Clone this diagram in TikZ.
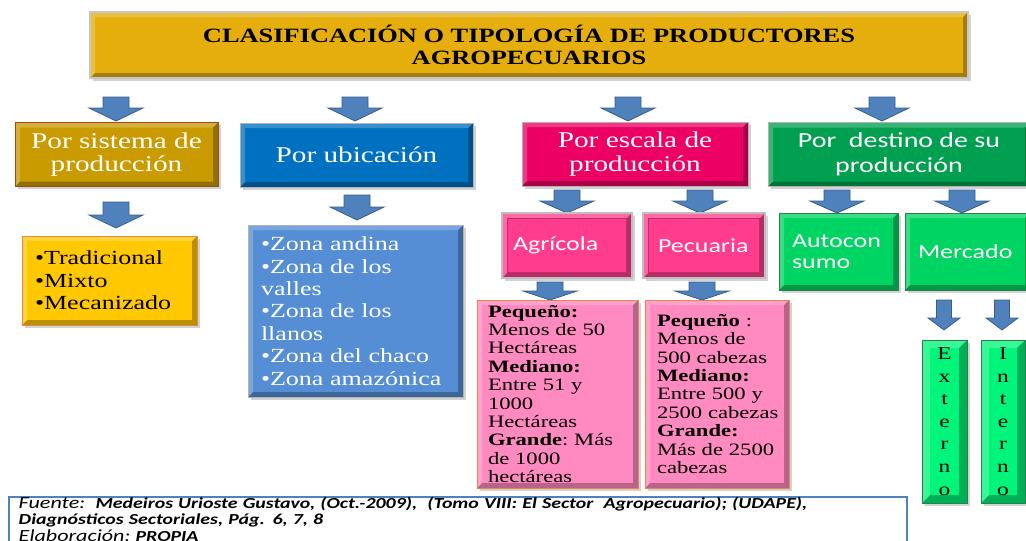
\documentclass[tikz,border=0pt]{standalone}
\usepackage{fontspec}
\setmainfont{Liberation Serif}[FakeStretch=1.3]
\newfontfamily\calib{Carlito}[FakeStretch=1.3]
\usetikzlibrary{shadows}
\definecolor{titlegold}{HTML}{E5AE0D}
\definecolor{sistgold}{HTML}{C99B00}
\definecolor{sistedge}{HTML}{9C4A1A}
\definecolor{ubicblue}{HTML}{0070C0}
\definecolor{escpink}{HTML}{EC0063}
\definecolor{destgreen}{HTML}{00A050}
\definecolor{itemgold}{HTML}{FFC800}
\definecolor{itemblue}{HTML}{558ED5}
\definecolor{agripink}{HTML}{FF3D8C}
\definecolor{mercgreen}{HTML}{00D462}
\definecolor{peqpink}{HTML}{FF8AC0}
\definecolor{extgreen}{HTML}{00F57A}
\definecolor{orangeedge}{HTML}{E8864A}
\definecolor{greenedge}{HTML}{2E7D4F}
\definecolor{arrowblue}{HTML}{4F81BD}
\definecolor{arrowedge}{HTML}{385D8A}
\tikzset{
  bevel/.style={path picture={
    \fill[black,opacity=.28] (path picture bounding box.south west) -- ([shift={(#1,#1)}]path picture bounding box.south west) -- ([shift={(-#1,#1)}]path picture bounding box.south east) -- ([shift={(-#1,-#1)}]path picture bounding box.north east) -- (path picture bounding box.north east) -- (path picture bounding box.south east) -- cycle;
    \fill[white,opacity=.22] (path picture bounding box.south west) -- ([shift={(#1,#1)}]path picture bounding box.south west) -- ([shift={(#1,-#1)}]path picture bounding box.north west) -- ([shift={(-#1,-#1)}]path picture bounding box.north east) -- (path picture bounding box.north east) -- (path picture bounding box.north west) -- cycle;
  }},
  bevel/.default=5pt,
  box/.style={draw, line width=.8pt, inner sep=0pt, bevel,
    drop shadow={shadow xshift=2.5pt, shadow yshift=-2.5pt, opacity=.35}},
  lvtwo/.style={box, text=white, align=center, minimum height=64},
  itembox/.style={box, align=left, inner xsep=#1},
  pics/darrow/.style n args={4}{code={
    \filldraw[fill=arrowblue, draw=arrowedge, line width=.8pt]
      (-#1,0) -- (#1,0) -- (#1,#3) -- (#2,#3) -- (0,#4) -- (-#2,#3) -- (-#1,#3) -- cycle;}},
}
\newcommand{\tsize}[2]{\fontsize{#1}{#2}\selectfont}
\begin{document}
\begin{tikzpicture}[x=1pt,y=-1pt]
  \useasboundingbox[fill=white] (0,0) rectangle (1026,541);
  \node[box, fill=titlegold, draw=gray!45, line width=1.5pt, minimum width=878, minimum height=66,
    align=center, font=\bfseries\tsize{20.3}{22}] (titulo) at (529,45)
    {CLASIFICACIÓN O TIPOLOGÍA DE PRODUCTORES\\AGROPECUARIOS};

  \pic at (116,97) {darrow={13}{27}{11}{24}};
  \pic at (355,97) {darrow={13}{27}{11}{24}};
  \pic at (628,97) {darrow={13}{27}{11}{24}};
  \pic at (882,97) {darrow={13}{27}{11}{24}};

  \node[lvtwo, fill=sistgold, draw=sistedge, minimum width=203, font=\tsize{22.5}{23.5}] (sistema) at (116.5,154.5) {Por sistema de\\producción};
  \node[lvtwo, fill=ubicblue, draw=gray!60, minimum width=233, font=\tsize{22.5}{23.5}] (ubicacion) at (356.5,155) {Por ubicación};
  \node[lvtwo, fill=escpink, draw=gray!60, minimum width=226, font=\tsize{22.5}{23.5}] (escala) at (635,154) {Por escala de\\producción};
  \node[lvtwo, fill=destgreen, draw=gray!60, minimum width=262, font=\calib\tsize{21.5}{25}] (destino) at (899,154.5) {Por\ \ destino de su\\producción};

  \pic at (116,202) {darrow={13}{27}{13}{26}};
  \pic at (357,195) {darrow={13}{27}{12}{25}};
  \pic at (567,190) {darrow={13}{27}{11}{23}};
  \pic at (700,190) {darrow={13}{27}{11}{23}};
  \pic at (837,190) {darrow={13}{27}{11}{23}};
  \pic at (962,190) {darrow={13}{27}{11}{23}};

  \node[itembox=13pt, fill=itemgold, draw=orangeedge, text width=149, minimum height=89,
    font=\tsize{20}{22.5}] (tipos) at (109.5,280.5) {•Tradicional\\•Mixto\\•Mecanizado};
  \node[itembox=13pt, fill=itemblue, draw=gray!60, text=white, text width=189, minimum height=172,
    font=\tsize{20}{22.4}] (zonas) at (355.5,311)
    {•Zona~andina\\•Zona~de~los\\valles\\•Zona~de~los\\llanos\\•Zona~del~chaco\\•Zona~amazónica};

  \node[itembox=11pt, fill=agripink, draw=gray!50, line width=1.5pt, text=white, text width=108, minimum height=65,
    font=\calib\tsize{20}{22}] (agricola) at (567,245.5) {Agrícola};
  \node[itembox=15pt, fill=agripink, draw=gray!50, line width=1.5pt, text=white, text width=92, minimum height=65,
    font=\calib\tsize{20}{22}] (pecuaria) at (704,245.5) {Pecuaria};
  \draw[black!25!agripink, line width=.6pt] ([shift={(6pt,-6pt)}]agricola.north west) rectangle ([shift={(-6pt,6pt)}]agricola.south east);
  \draw[black!25!agripink, line width=.6pt] ([shift={(6pt,-6pt)}]pecuaria.north west) rectangle ([shift={(-6pt,6pt)}]pecuaria.south east);
  \node[itembox=13pt, fill=mercgreen, draw=greenedge, text=white, text width=93, minimum height=77,
    font=\calib\tsize{20}{21.5}] (autoconsumo) at (838.5,251.5) {Autocon\\sumo};
  \node[itembox=13pt, fill=mercgreen, draw=greenedge, text=white, text width=99, minimum height=77,
    font=\calib\tsize{20}{21.5}] (mercado) at (967.5,251.5) {Mercado};

  \pic at (550,282) {darrow={13}{27}{9}{18}};
  \pic at (702,282) {darrow={13}{27}{9}{18}};
  \pic at (944,300) {darrow={7.5}{16}{18}{30}};
  \pic at (1002,300) {darrow={7.5}{16}{18}{30}};

  \node[itembox=11pt, fill=peqpink, draw=orangeedge, text width=139, minimum height=188,
    font=\tsize{17.4}{18.4}] (escagri) at (557.5,394)
    {\textbf{Pequeño:}\\Menos~de~50\\Hectáreas\\\textbf{Mediano:}\\Entre~51~y\\1000\\Hectáreas\\\textbf{Grande}:~Más\\de~1000\\hectáreas};
  \node[itembox=12pt, fill=peqpink, draw=orangeedge, text width=120, minimum height=188,
    font=\tsize{17.4}{18.4}] (escpec) at (717,394)
    {\textbf{Pequeño}~:\\Menos~de\\500~cabezas\\\textbf{Mediano:}\\Entre~500~y\\2500~cabezas\\\textbf{Grande:}\\Más~de~2500\\cabezas};

  \node[box, bevel=8pt, fill=extgreen, draw=greenedge, minimum width=45, minimum height=163, align=center,
    font=\tsize{18}{22.6}] (externo) at (944.5,421.5) {E\\x\\t\\e\\r\\n\\o};
  \node[box, bevel=8pt, fill=extgreen, draw=greenedge, minimum width=44, minimum height=163, align=center,
    font=\tsize{18}{22.6}] (interno) at (1003,421.5) {I\\n\\t\\e\\r\\n\\o};

  \node[draw=arrowblue, line width=1.5pt, fill=white, anchor=north west, minimum width=898,
    inner xsep=10pt, inner ysep=0pt, text width=878, align=left,
    font=\calib\itshape\tsize{15.3}{16.5}] (fuente) at (8,496)
    {{\tsize{17}{16.5}Fuente:}\ \ \textbf{Medeiros Urioste Gustavo, (Oct.-2009),\ \ (Tomo VIII: El Sector\ \ Agropecuario); (UDAPE),}\\
     \textbf{Diagnósticos Sectoriales, Pág. 6, 7, 8}\\
     {\tsize{17}{16.5}Elaboración:}\ \textbf{PROPIA}\rule[-14pt]{0pt}{14pt}};
\end{tikzpicture}
\end{document}
